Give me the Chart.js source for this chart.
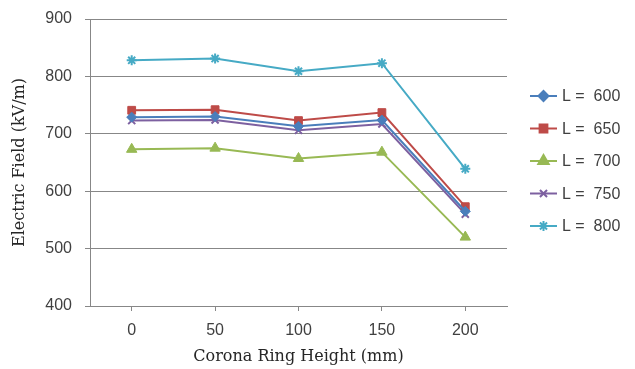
<!DOCTYPE html>
<html>
<head>
<meta charset="utf-8">
<script src="https://cdn.jsdelivr.net/npm/chart.js@4/dist/chart.umd.min.js"></script>
<style>
	html, body { margin: 0; padding: 0; background: #fff; }
</style>
</head>
<body>
<canvas id="myChart" width="635" height="369"></canvas>
<script>
// categories (corona ring height, mm)
const heights = ["0", "50", "100", "150", "200"];
// electric field values, kV/m
const l600 = [729, 730, 713, 724, 565];
const l650 = [741, 742, 723, 737, 573];
const l700 = [673, 675, 657, 668, 520];
const l750 = [723, 724, 706, 717, 560];
const l800 = [828, 831, 809, 823, 639];
const seriesNames = ["L =  600", "L =  650", "L =  700", "L =  750", "L =  800"];
const yTicks = [400, 500, 600, 700, 800, 900];

const colors = ["#4a7ebb", "#be4b48", "#98b954", "#7d60a0", "#46aac5"];
const markers = ["rectRot", "rect", "triangle", "crossRot", "star"];
const sizes = [5, 5.5, 6, 5, 5];
const gridColor = "#878787";
const textColor = "#404040";
const titleFont = "'DejaVu Serif', 'Liberation Serif', serif";

const makeSet = (label, values, i) => ({
	label: label,
	data: values,
	borderColor: colors[i],
	backgroundColor: colors[i],
	borderWidth: 2,
	pointStyle: markers[i],
	pointRadius: sizes[i],
	pointBorderWidth: markers[i] == "crossRot" || markers[i] == "star" ? 2 : 1,
	pointBackgroundColor: colors[i],
	pointBorderColor: colors[i],
	tension: 0,
});

// legend drawn by hand: line + marker + text
const sideLegend = {
	id: "sideLegend",
	afterDraw(chart) {
		const ctx = chart.ctx;
		const startY = 96;
		const step = 32.5;
		chart.data.datasets.forEach((ds, i) => {
			const y = startY + i * step;
			ctx.save();
			ctx.strokeStyle = ds.borderColor;
			ctx.lineWidth = 2;
			ctx.beginPath();
			ctx.moveTo(530, y);
			ctx.lineTo(557, y);
			ctx.stroke();
			ctx.fillStyle = ds.backgroundColor;
			Chart.helpers.drawPoint(ctx, {
				pointStyle: ds.pointStyle,
				radius: ds.pointRadius,
				borderWidth: ds.pointBorderWidth,
				rotation: 0,
			}, 543.5, y);
			ctx.fillStyle = textColor;
			ctx.font = "16px 'Liberation Sans', Arial, sans-serif";
			ctx.textBaseline = "middle";
			ctx.textAlign = "left";
			ctx.fillText(ds.label, 562, y + 1);
			ctx.restore();
		});
	},
};

const data = {
	labels: heights,
	datasets: [
		makeSet(seriesNames[0], l600, 0),
		makeSet(seriesNames[1], l650, 1),
		makeSet(seriesNames[2], l700, 2),
		makeSet(seriesNames[3], l750, 3),
		makeSet(seriesNames[4], l800, 4),
	],
};

const config = {
	type: "line",
	data,
	options: {
		responsive: false,
		animation: false,
		layout: { padding: { top: 19, right: 128, left: 0, bottom: 0 } },
		plugins: {
			legend: { display: false },
			tooltip: { enabled: false },
		},
		scales: {
			x: {
				offset: true,
				grid: {
					offset: false,
					drawOnChartArea: false,
					color: gridColor,
					tickLength: 5,
				},
				border: { color: gridColor },
				ticks: {
					color: textColor,
					padding: 10,
					font: { family: "'Liberation Sans', Arial, sans-serif", size: 16 },
				},
				title: {
					display: true,
					text: "Corona Ring Height (mm)",
					color: "#262626",
					padding: { top: 0, bottom: 3 },
					font: { family: titleFont, size: 16 },
				},
				afterFit: (scale) => {
					scale.height = 63;
				},
			},
			y: {
				min: 400,
				max: 900,
				afterBuildTicks: (scale) => {
					scale.ticks = yTicks.map((v) => ({ value: v }));
				},
				grid: { color: gridColor, tickLength: 5 },
				border: { color: gridColor },
				ticks: {
					color: textColor,
					padding: 13,
					font: { family: "'Liberation Sans', Arial, sans-serif", size: 16 },
				},
				title: {
					display: true,
					text: "Electric Field (kV/m)",
					color: "#262626",
					padding: { top: 10, bottom: 0 },
					font: { family: titleFont, size: 16 },
				},
				afterFit: (scale) => {
					scale.width = 90;
					scale.paddingTop = 0;
					scale.paddingBottom = 0;
				},
			},
		},
	},
	plugins: [sideLegend],
};

const myChart = new Chart(document.getElementById("myChart"), config);
</script>
</body>
</html>
